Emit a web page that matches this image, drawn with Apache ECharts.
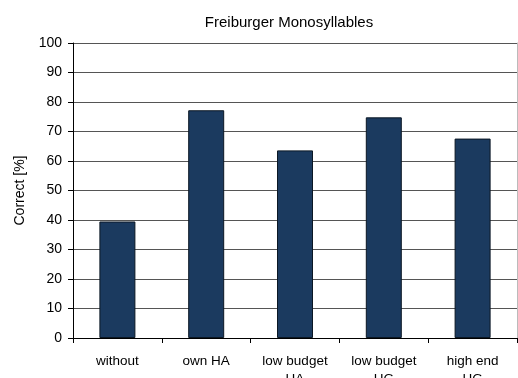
<!DOCTYPE html>
<html>
<head>
<meta charset="utf-8">
<script src="https://cdn.jsdelivr.net/npm/echarts@6/dist/echarts.min.js"></script>
<style>html,body{margin:0;padding:0;background:#fff;}#c{width:518px;height:378px;}</style>
</head>
<body>
<div id="c"></div>
<script>
const categories = ["without", "own HA", "low budget\nHA", "low budget\nHG", "high end\nHG"];
const values = [39.5, 77.2, 63.6, 74.8, 67.6];
const yTicks = { min: 0, max: 100, interval: 10 };
const titleText = "Freiburger Monosyllables";
const yName = "Correct [%]";

const chart = echarts.init(document.getElementById('c'), null, { renderer: 'canvas' });
chart.setOption({
  animation: false,
  backgroundColor: '#fff',
  title: {
    text: titleText, left: 284, top: 10, textAlign: 'center',
    textStyle: { fontFamily: 'Liberation Sans', fontSize: 15, fontWeight: 'normal', color: '#000' }
  },
  grid: { left: 73, right: 1, top: 43, bottom: 40, containLabel: false, outerBoundsMode: 'none' },
  xAxis: {
    type: 'category', data: categories,
    axisLine: { lineStyle: { color: '#000', width: 1 } },
    axisTick: { show: true, length: 5, alignWithLabel: false, lineStyle: { color: '#000' } },
    axisLabel: { fontFamily: 'Liberation Sans', fontSize: 13.5, color: '#000', margin: 14, lineHeight: 18, interval: 0 },
    splitLine: { show: false }
  },
  yAxis: [{
    type: 'value', min: yTicks.min, max: yTicks.max, interval: yTicks.interval,
    name: yName, nameLocation: 'middle', nameGap: 46, nameRotate: 90,
    nameTextStyle: { fontFamily: 'Liberation Sans', fontSize: 14, color: '#000' },
    axisLine: { show: true, lineStyle: { color: '#000', width: 1 } },
    axisTick: { show: true, length: 5, lineStyle: { color: '#000' } },
    axisLabel: { fontFamily: 'Liberation Sans', fontSize: 14, color: '#000', margin: 11 },
    splitLine: { show: true, lineStyle: { color: '#555', width: 1 } }
  }, {
    type: 'value', position: 'right', min: yTicks.min, max: yTicks.max, interval: yTicks.interval,
    axisLine: { show: true, lineStyle: { color: '#bbb', width: 1 } },
    axisTick: { show: false }, axisLabel: { show: false }, splitLine: { show: false }
  }],
  series: [{
    type: 'bar', data: values, barWidth: 36, yAxisIndex: 0,
    itemStyle: { color: '#1b3a5f', borderColor: '#0b1724', borderWidth: 1 }
  }]
});
</script>
</body>
</html>
